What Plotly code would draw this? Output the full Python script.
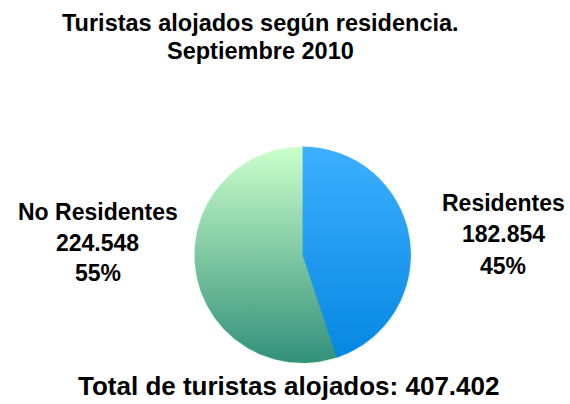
import numpy as np
import plotly.graph_objects as go

categories = ["Residentes", "No Residentes"]
values = [182854, 224548]
value_labels = ["182.854", "224.548"]
pct_labels = ["45%", "55%"]
title_lines = ["Turistas alojados según residencia.", "Septiembre 2010"]
total_label = "Total de turistas alojados: 407.402"

W, H = 570, 404
FONT = "Liberation Sans, Arial, Helvetica, sans-serif"

cx, cy, r = 302.5, 255.0, 108.5
dom_x = [(cx - r) / W, (cx + r) / W]
dom_y = [(H - cy - r) / H, (H - cy + r) / H]

fig = go.Figure()

# decorative vertical gradient under the (semi-transparent) pie
t = np.linspace(0, 2 * np.pi, 361)
fig.add_trace(go.Scatter(
    x=0.995 * np.cos(t), y=0.995 * np.sin(t), mode="lines", line=dict(width=0),
    fill="toself", hoverinfo="skip", showlegend=False,
    fillgradient=dict(type="vertical", colorscale=[
        [0.0, "rgb(20,85,130)"],
        [1.0, "rgb(255,255,255)"],
    ]),
))

fig.add_trace(go.Pie(
    labels=categories, values=values, sort=False, direction="clockwise",
    rotation=0, textinfo="none", hoverinfo="label+value+percent",
    marker=dict(colors=["rgba(0,150,255,0.76)", "rgba(109,254,109,0.35)"],
                line=dict(width=0)),
    domain=dict(x=dom_x, y=dom_y), showlegend=False,
))

def ann(text, xpx, ypx, size, yanchor="middle"):
    fig.add_annotation(
        x=xpx / W, y=1 - ypx / H, xref="paper", yref="paper",
        text=f"<b>{text}</b>", showarrow=False, xanchor="center", yanchor=yanchor,
        font=dict(family=FONT, size=size, color="black"),
    )

ann(title_lines[0], 260, 22.5, 23.5)
ann(title_lines[1], 260, 50.5, 23.5)

for i, (xc, ys) in enumerate([(503, [202.5, 234.5, 265.5]), (97.5, [211.5, 242.5, 273])]):
    ann(categories[i], xc, ys[0], 23)
    ann(value_labels[i], xc, ys[1], 23)
    ann(pct_labels[i], xc, ys[2], 23)

ann(total_label, 288.5, 403, 26, yanchor="bottom")

fig.update_layout(
    width=W, height=H, margin=dict(l=0, r=0, t=0, b=0),
    paper_bgcolor="white", plot_bgcolor="rgba(0,0,0,0)", showlegend=False,
    xaxis=dict(domain=dom_x, range=[-1, 1], visible=False, fixedrange=True),
    yaxis=dict(domain=dom_y, range=[-1, 1], visible=False, fixedrange=True),
)

fig.write_html("out.html", config={"displayModeBar": False},
               post_script="document.body.style.margin='0';")
